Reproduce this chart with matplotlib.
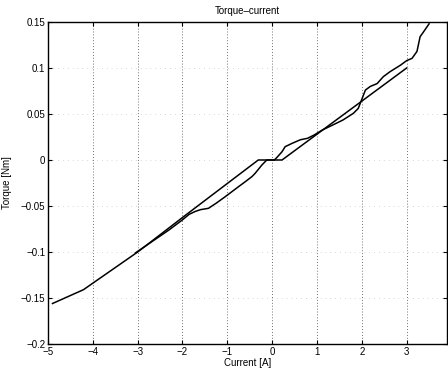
import matplotlib
matplotlib.use("Agg")
import matplotlib.pyplot as plt

# Curve A (straight deadband line)
a_current = [-4.9, -4.21, -3.0, -2.0, -0.31, 0.22, 3.0]
a_torque = [-0.156, -0.141, -0.100, -0.0625, 0.0, 0.0, 0.100]

# Curve B (measured, wiggly)
b_current = [-3.05, -2.6, -2.3, -2.0, -1.85, -1.72, -1.6, -1.42, -1.25, -1.05,
             -0.75, -0.6, -0.45, -0.38, -0.23, -0.12, 0.05, 0.11, 0.22, 0.29,
             0.44, 0.63, 0.79, 0.93, 1.12, 1.35, 1.58, 1.81, 1.92, 2.0,
             2.08, 2.19, 2.34, 2.48, 2.63, 2.86, 3.0, 3.12, 3.23, 3.30,
             3.38, 3.5]
b_torque = [-0.101, -0.086, -0.076, -0.065, -0.059, -0.056, -0.054, -0.0525, -0.047, -0.040,
            -0.029, -0.0236, -0.018, -0.0145, -0.0055, 0.0, 0.0, 0.003, 0.009, 0.0145,
            0.018, 0.022, 0.0236, 0.027, 0.0326, 0.038, 0.0435, 0.0507, 0.056, 0.066,
            0.076, 0.080, 0.083, 0.0906, 0.096, 0.103, 0.108, 0.1105, 0.118, 0.134,
            0.1395, 0.148]

xticks = [-5, -4, -3, -2, -1, 0, 1, 2, 3]
yticks = [-0.2, -0.15, -0.1, -0.05, 0, 0.05, 0.1, 0.15]
ytick_labels = ["\u22120.2", "\u22120.15", "\u22120.1", "\u22120.05", "0", "0.05", "0.1", "0.15"]
xtick_labels = ["\u22125", "\u22124", "\u22123", "\u22122", "\u22121", "0", "1", "2", "3"]

plt.rcParams['font.family'] = ['Liberation Sans', 'DejaVu Sans']
fig = plt.figure(figsize=(4.48, 3.70), dpi=100)
ax = fig.add_axes([48/448, 1 - 344/370, (447-48)/448, (344-22)/370])

ax.plot(a_current, a_torque, color='black', lw=1.1)
ax.plot(b_current, b_torque, color='black', lw=1.1)

ax.set_xlim(-5, 3.9)
ax.set_ylim(-0.2, 0.15)
ax.set_xticks(xticks)
ax.set_xticklabels(xtick_labels)
ax.set_yticks(yticks)
ax.set_yticklabels(ytick_labels)
ax.xaxis.grid(True, linestyle=(0, (1, 2.5)), color='black', linewidth=0.6, alpha=0.75)
ax.yaxis.grid(True, linestyle=(0, (1, 6)), color='black', linewidth=0.5, alpha=0.3)
ax.tick_params(direction='in', length=3, labelsize=7, top=True, right=True, width=0.8, pad=2)
for s in ax.spines.values():
    s.set_linewidth(1.0)

ax.set_title("Torque\u2013current", fontsize=7, pad=6)
ax.set_xlabel("Current [A]", fontsize=7, labelpad=1)
ax.set_ylabel("Torque [Nm]", fontsize=7, labelpad=6)

fig.savefig("out.png", dpi=100)
